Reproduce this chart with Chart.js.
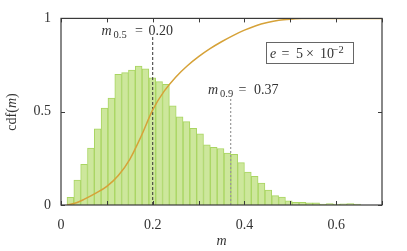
<!DOCTYPE html>
<html>
<head>
<meta charset="utf-8">
<script src="https://cdn.jsdelivr.net/npm/chart.js@4/dist/chart.umd.min.js"></script>
<style>
    html, body { margin: 0; padding: 0; background: #fff; }
    #wrap { width: 407px; height: 251px; position: relative; }
</style>
</head>
<body>
<div id="wrap"><canvas id="chartCanvas"></canvas></div>
<script>
// histogram of m (bin centres and heights)
const binCenters = [0.0205, 0.0354, 0.0503, 0.0652, 0.0800, 0.0949, 0.1098, 0.1247, 0.1396, 0.1545,
    0.1694, 0.1842, 0.1991, 0.2140, 0.2289, 0.2438, 0.2587, 0.2736, 0.2884, 0.3033,
    0.3182, 0.3331, 0.3480, 0.3629, 0.3778, 0.3926, 0.4075, 0.4224, 0.4373, 0.4522,
    0.4671, 0.4820, 0.4968, 0.5117, 0.5266, 0.5415, 0.5564, 0.5713, 0.5862, 0.6010,
    0.6159, 0.6308, 0.6457]
const binHeights = [0.041, 0.133, 0.218, 0.305, 0.408, 0.52, 0.573, 0.70, 0.709, 0.723,
    0.745, 0.73, 0.682, 0.661, 0.647, 0.532, 0.473, 0.447, 0.411, 0.381,
    0.323, 0.309, 0.303, 0.278, 0.271, 0.227, 0.177, 0.154, 0.117, 0.08,
    0.05, 0.043, 0.023, 0.014, 0.014, 0.011, 0.011, 0.005, 0.008, 0.005,
    0.006, 0.008, 0.005]

// cumulative distribution
const cdfM = [0.013, 0.03, 0.05, 0.075, 0.1, 0.125, 0.15, 0.175, 0.2, 0.225,
    0.25, 0.275, 0.3, 0.325, 0.35, 0.375, 0.4, 0.425, 0.45, 0.475,
    0.5, 0.525, 0.55, 0.7]
const cdfValues = [0, 0.009, 0.03, 0.062, 0.1, 0.158, 0.245, 0.37, 0.51, 0.61,
    0.685, 0.745, 0.795, 0.838, 0.875, 0.908, 0.937, 0.961, 0.978, 0.99,
    0.996, 0.999, 1.0, 1.0]

// quantile markers
const quantileM = [0.20, 0.37]
const quantileTop = [0.9, 0.575]

const xTicks = [0, 0.1, 0.2, 0.3, 0.4, 0.5, 0.6, 0.7]
const xTickLabels = ['0', '', '0.2', '', '0.4', '', '0.6', '']
const yTicks = [0, 0.5, 1]
const yTickLabels = ['0', '0.5', '1']

const serif = '"Liberation Serif", "Times New Roman", serif'
const textColor = '#333'

const drawParts = (ctx, parts) => {
    parts.forEach(p => {
        ctx.font = p.font
        ctx.fillText(p.t, p.x, p.y)
    })
}

const annotations = {
    id: 'annotations',
    afterDatasetsDraw(chart) {
        const ctx = chart.ctx
        const {left, right, top, bottom} = chart.chartArea
        const xs = chart.scales.x
        const ys = chart.scales.y
        ctx.save()
        // frame
        ctx.strokeStyle = '#3a3a3a'
        ctx.lineWidth = 1.2
        ctx.strokeRect(left, top, right - left, bottom - top)
        // inward ticks
        ctx.lineWidth = 1
        ctx.beginPath()
        xTicks.forEach(v => {
            const px = Math.round(xs.getPixelForValue(v)) + 0.5
            ctx.moveTo(px, bottom); ctx.lineTo(px, bottom - 4)
            ctx.moveTo(px, top); ctx.lineTo(px, top + 4)
        })
        yTicks.forEach(v => {
            const py = Math.round(ys.getPixelForValue(v)) + 0.5
            ctx.moveTo(left, py); ctx.lineTo(left + 4, py)
            ctx.moveTo(right, py); ctx.lineTo(right - 4, py)
        })
        ctx.stroke()

        // text labels
        ctx.fillStyle = textColor
        ctx.textAlign = 'left'
        ctx.textBaseline = 'alphabetic'
        const main = '14px ' + serif
        const ital = 'italic 14px ' + serif
        const small = '10.5px ' + serif
        drawParts(ctx, [
            {t: 'm', x: 101.5, y: 35, font: ital},
            {t: '0.5', x: 113.5, y: 38, font: small},
            {t: '=', x: 135, y: 35, font: main},
            {t: '0.20', x: 148.5, y: 35, font: main}
        ])
        drawParts(ctx, [
            {t: 'm', x: 208, y: 94, font: ital},
            {t: '0.9', x: 220, y: 97, font: small},
            {t: '=', x: 238.5, y: 94, font: main},
            {t: '0.37', x: 254, y: 94, font: main}
        ])

        // box with e value
        ctx.strokeStyle = '#666'
        ctx.lineWidth = 1
        ctx.strokeRect(266.5, 42.5, 87, 21)
        drawParts(ctx, [
            {t: 'e', x: 270, y: 58, font: ital},
            {t: '=', x: 281.5, y: 58, font: main},
            {t: '5', x: 296, y: 58, font: main},
            {t: '\u00d7', x: 306, y: 58, font: main},
            {t: '10', x: 320, y: 58, font: main},
            {t: '\u22122', x: 332.5, y: 53, font: small}
        ])

        // axis titles
        ctx.font = ital
        ctx.fillText('m', (left + right) / 2 - 5, 245)
        ctx.save()
        ctx.translate(12.5, 112)
        ctx.rotate(-Math.PI / 2)
        ctx.textBaseline = 'middle'
        ctx.font = main
        const w1 = ctx.measureText('cdf(').width
        const w3 = ctx.measureText(')').width
        ctx.font = ital
        const w2 = ctx.measureText('m').width
        let x0 = -(w1 + w2 + w3) / 2
        ctx.font = main
        ctx.fillText('cdf(', x0, 0)
        ctx.font = ital
        ctx.fillText('m', x0 + w1, 0)
        ctx.font = main
        ctx.fillText(')', x0 + w1 + w2, 0)
        ctx.restore()
        ctx.restore()
    }
}

const histData = binCenters.map((m, i) => ({x: m, y: binHeights[i]}))
const cdfData = cdfM.map((m, i) => ({x: m, y: cdfValues[i]}))

const config = {
    type: 'bar',
    data: {
        datasets: [
            {
                type: 'bar',
                data: histData,
                backgroundColor: '#cde79c',
                borderColor: '#a9d562',
                borderWidth: 1,
                barPercentage: 1,
                categoryPercentage: 1,
                order: 3
            },
            {
                type: 'line',
                data: [{x: quantileM[0], y: 0}, {x: quantileM[0], y: quantileTop[0]}],
                borderColor: '#333',
                borderWidth: 1,
                borderDash: [3, 2],
                pointRadius: 0,
                order: 2
            },
            {
                type: 'line',
                data: [{x: quantileM[1], y: 0}, {x: quantileM[1], y: quantileTop[1]}],
                borderColor: '#999',
                borderWidth: 1.2,
                borderDash: [2, 2],
                pointRadius: 0,
                order: 2
            },
            {
                type: 'line',
                data: cdfData,
                borderColor: '#d6a238',
                borderWidth: 1.5,
                pointRadius: 0,
                cubicInterpolationMode: 'monotone',
                order: 1
            }
        ]
    },
    options: {
        responsive: false,
        animation: false,
        layout: { padding: { top: 17, right: 25, left: 0, bottom: 0 } },
        plugins: {
            legend: { display: false },
            tooltip: { enabled: false }
        },
        scales: {
            x: {
                type: 'linear',
                min: 0,
                max: 0.7,
                offset: false,
                grid: { display: false, offset: false, drawTicks: false },
                border: { display: false },
                afterBuildTicks: scale => { scale.ticks = xTicks.map(v => ({value: v})) },
                afterFit: scale => { scale.height = 46 },
                ticks: {
                    padding: 12,
                    maxRotation: 0,
                    autoSkip: false,
                    color: textColor,
                    font: { family: serif, size: 14 },
                    callback: (v, i) => xTickLabels[i]
                }
            },
            y: {
                min: 0,
                max: 1,
                grid: { display: false, drawTicks: false },
                border: { display: false },
                afterBuildTicks: scale => { scale.ticks = yTicks.map(v => ({value: v})) },
                afterFit: scale => { scale.width = 61 },
                ticks: {
                    padding: 10,
                    color: textColor,
                    font: { family: serif, size: 14 },
                    callback: (v, i) => yTickLabels[i]
                }
            }
        }
    },
    plugins: [annotations]
}

const canvas = document.getElementById('chartCanvas')
canvas.width = 407
canvas.height = 251
const myChart = new Chart(canvas, config)
</script>
</body>
</html>
